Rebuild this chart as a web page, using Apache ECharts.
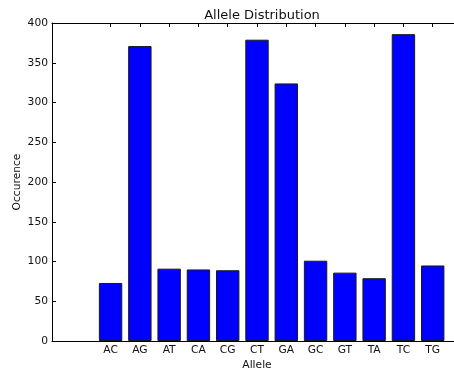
<!DOCTYPE html>
<html>
<head>
<meta charset="utf-8">
<script src="https://cdn.jsdelivr.net/npm/echarts@6/dist/echarts.min.js"></script>
<style>
  html, body { margin: 0; padding: 0; background: #fff; }
  #chart { width: 454px; height: 374px; }
</style>
</head>
<body>
<div id="chart"></div>
<script>
// Allele counts
const alleles = ['AC', 'AG', 'AT', 'CA', 'CG', 'CT', 'GA', 'GC', 'GT', 'TA', 'TC', 'TG'];
const counts  = [73, 371, 91, 90, 89, 379, 324, 101, 86, 79, 386, 95];
const yTicks  = [0, 50, 100, 150, 200, 250, 300, 350, 400];

// The x range leaves two empty slots before the first allele and one after the last
const padBefore = 2, padAfter = 1;
const slots = [
  ...Array(padBefore).fill(''),
  ...alleles,
  ...Array(padAfter).fill('')
];
const slotValues = [
  ...Array(padBefore).fill(null),
  ...counts,
  ...Array(padAfter).fill(null)
];

const FONT = 'DejaVu Sans';
const TXT = '#111';
const showSlot = (idx, val) => val !== '';

const chart = echarts.init(document.getElementById('chart'), null, { renderer: 'canvas' });

const xBase = {
  type: 'category',
  data: slots,
  boundaryGap: false,
  axisLine: { show: true, onZero: false, lineStyle: { color: '#000', width: 1 } },
  axisTick: { show: true, inside: true, length: 4, interval: showSlot, lineStyle: { color: '#000' } },
  splitLine: { show: false }
};

chart.setOption({
  animation: false,
  backgroundColor: '#fff',
  title: {
    text: 'Allele Distribution',
    left: 257,
    top: 4,
    textAlign: 'center',
    textStyle: { fontFamily: FONT, fontSize: 13, fontWeight: 'normal', color: TXT }
  },
  grid: { left: 52, top: 23, width: 410, height: 318, outerBoundsMode: 'none', containLabel: false },
  xAxis: [
    Object.assign({}, xBase, {
      position: 'bottom',
      name: 'Allele',
      nameLocation: 'middle',
      nameGap: 19,
      nameMoveOverlap: false,
      nameTextStyle: { fontFamily: FONT, fontSize: 10.7, color: TXT },
      axisLabel: {
        interval: showSlot,
        margin: 4,
        fontFamily: FONT, fontSize: 10.7, color: TXT
      }
    }),
    Object.assign({}, xBase, {
      position: 'top',
      axisLabel: { show: false }
    })
  ],
  yAxis: {
    type: 'value',
    min: yTicks[0],
    max: yTicks[yTicks.length - 1],
    interval: yTicks[1] - yTicks[0],
    name: 'Occurence',
    nameLocation: 'middle',
    nameRotate: 90,
    nameGap: 29,
    nameMoveOverlap: false,
    nameTextStyle: { fontFamily: FONT, fontSize: 10.7, color: TXT },
    axisLine: { show: true, lineStyle: { color: '#000', width: 1 } },
    axisTick: { show: true, inside: true, length: 4, lineStyle: { color: '#000' } },
    axisLabel: { margin: 4, fontFamily: FONT, fontSize: 10.7, color: TXT },
    splitLine: { show: false }
  },
  series: [{
    type: 'bar',
    data: slotValues,
    xAxisIndex: 0,
    barWidth: 23.4,
    itemStyle: { color: '#0000ff', borderColor: '#1a1a1a', borderWidth: 1 }
  }]
});
</script>
</body>
</html>
